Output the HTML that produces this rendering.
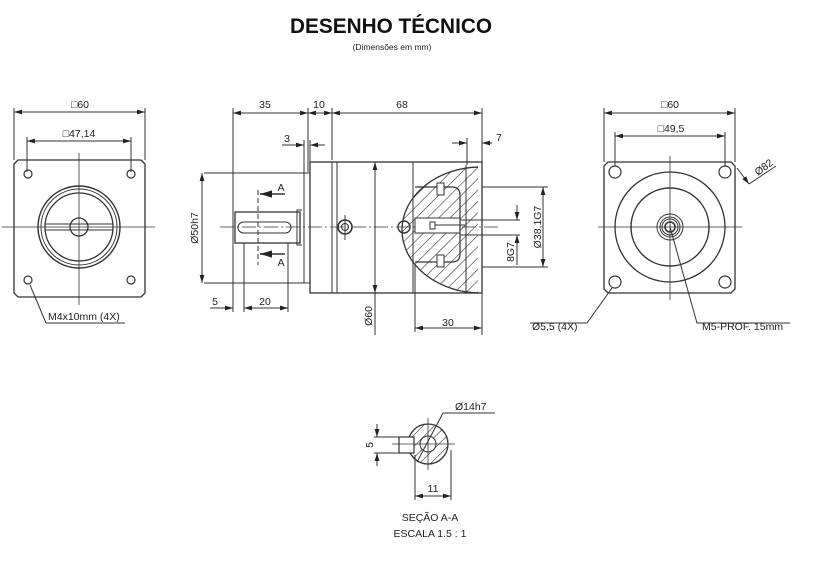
<!DOCTYPE html>
<html><head><meta charset="utf-8"><style>
html,body{margin:0;padding:0;background:#fff;}
svg{display:block;}
text{font-family:"Liberation Sans",Arial,sans-serif;fill:#222;}
</style></head><body>
<svg width="824" height="564" viewBox="0 0 824 564" xmlns="http://www.w3.org/2000/svg">
<defs>
<pattern id="h" width="8" height="8" patternUnits="userSpaceOnUse" patternTransform="rotate(45)">
<line x1="0" y1="0" x2="0" y2="8" stroke="#333" stroke-width="1.2"/>
</pattern>
<marker id="a" viewBox="0 0 10 6" refX="10" refY="3" markerWidth="8" markerHeight="5" orient="auto-start-reverse">
<path d="M0,0L10,3L0,6z" fill="#222"/>
</marker>
</defs>
<text x="391" y="33" font-size="21" font-weight="900" text-anchor="middle" textLength="202" lengthAdjust="spacingAndGlyphs" style="fill:#111">DESENHO TÉCNICO</text>
<text x="392" y="50" font-size="8.5" text-anchor="middle">(Dimensões em mm)</text>

<g stroke="#333" fill="none" stroke-width="1">
<!-- LEFT VIEW -->
<path d="M18,160H141L145,164V293L141,297H18L14,293V164Z" stroke-width="1.3"/>
<line x1="2" y1="227" x2="155" y2="227" stroke-width="0.8"/>
<line x1="79" y1="153" x2="79" y2="305" stroke-width="0.8"/>
<circle cx="79" cy="227" r="41" stroke-width="1.4"/>
<circle cx="79" cy="227" r="38"/>
<circle cx="79" cy="227" r="34" stroke-width="1.3"/>
<circle cx="79" cy="227" r="9" stroke-width="1.3"/>
<line x1="45" y1="224" x2="113" y2="224"/><line x1="45" y1="230" x2="113" y2="230"/>
<g stroke-width="1.2"><circle cx="28" cy="174" r="4"/><circle cx="131" cy="174" r="4"/><circle cx="28" cy="280" r="4"/><circle cx="131" cy="280" r="4"/></g>
<line x1="14" y1="108" x2="14" y2="160"/><line x1="145" y1="108" x2="145" y2="160"/>
<line x1="14" y1="112" x2="145" y2="112" marker-start="url(#a)" marker-end="url(#a)"/>
<line x1="27" y1="137" x2="27" y2="172"/><line x1="131" y1="137" x2="131" y2="172"/>
<line x1="27" y1="141" x2="131" y2="141" marker-start="url(#a)" marker-end="url(#a)"/>
<polyline points="30,285 46,323 125,323"/>

<!-- MIDDLE VIEW -->
<line x1="233" y1="108" x2="233" y2="312"/>
<line x1="308" y1="108" x2="308" y2="172"/>
<line x1="332" y1="108" x2="332" y2="160"/>
<line x1="482" y1="108" x2="482" y2="335"/>
<line x1="233" y1="113" x2="308" y2="113" marker-start="url(#a)" marker-end="url(#a)"/>
<line x1="308" y1="113" x2="332" y2="113" marker-start="url(#a)" marker-end="url(#a)"/>
<line x1="332" y1="113" x2="482" y2="113" marker-start="url(#a)" marker-end="url(#a)"/>
<line x1="282" y1="145" x2="304" y2="145" marker-end="url(#a)"/>
<line x1="325" y1="145" x2="310" y2="145" marker-end="url(#a)"/>
<line x1="304" y1="140" x2="304" y2="173"/><line x1="310" y1="140" x2="310" y2="162"/>
<rect x="310" y="162" width="172" height="131" stroke-width="1.3"/>
<line x1="332" y1="162" x2="332" y2="293"/><line x1="337" y1="162" x2="337" y2="293"/>
<line x1="413" y1="162" x2="413" y2="293"/>
<rect x="304" y="173" width="6" height="110"/>
<path d="M302,210H297V245H302" /><rect x="235" y="212" width="65" height="31" stroke-width="1.3"/>
<rect x="238" y="222" width="53" height="11" rx="5.5"/>
<line x1="204" y1="173" x2="304" y2="173"/><line x1="204" y1="283" x2="304" y2="283"/>
<line x1="202" y1="173" x2="202" y2="283" marker-start="url(#a)" marker-end="url(#a)"/>
<line x1="258" y1="190" x2="258" y2="265" stroke-dasharray="5,3"/>
<line x1="285" y1="194" x2="260" y2="194" marker-end="url(#a)" stroke-width="1.5"/>
<line x1="285" y1="254" x2="260" y2="254" marker-end="url(#a)" stroke-width="1.5"/>
<line x1="220" y1="227" x2="500" y2="227" stroke-width="0.8" stroke-dasharray="14,3,2,3"/>
<circle cx="345" cy="227" r="7" stroke-width="1.6"/><circle cx="345" cy="227" r="3.5"/>
<line x1="345" y1="215" x2="345" y2="240"/>
<circle cx="404" cy="227" r="6" stroke-width="1.4"/>
<clipPath id="cc"><rect x="300" y="160" width="178" height="140"/></clipPath>
<ellipse cx="481" cy="230" rx="79" ry="63" fill="url(#h)" clip-path="url(#cc)" stroke-width="1.3"/>
<rect x="415" y="218" width="45" height="15" fill="#fff"/>
<path d="M415,187H452Q460,187 460,195V254Q460,262 452,262H415" stroke-width="1.2"/>
<rect x="437" y="183" width="7" height="12" fill="#fff"/><rect x="437" y="255" width="7" height="12" fill="#fff"/>
<path d="M460,218V233" /><line x1="466" y1="165" x2="466" y2="293"/>
<rect x="430" y="222" width="5" height="7"/><line x1="435" y1="225" x2="465" y2="225"/>
<line x1="452" y1="143" x2="467" y2="143" marker-end="url(#a)"/>
<line x1="492" y1="143" x2="482" y2="143" marker-end="url(#a)"/>
<line x1="467" y1="138" x2="467" y2="165"/>
<line x1="482" y1="187" x2="548" y2="187"/><line x1="482" y1="267" x2="548" y2="267"/>
<line x1="543" y1="187" x2="543" y2="267" marker-start="url(#a)" marker-end="url(#a)"/>
<line x1="460" y1="220" x2="520" y2="220"/><line x1="460" y1="235" x2="520" y2="235"/>
<line x1="517" y1="205" x2="517" y2="220" marker-end="url(#a)"/>
<line x1="517" y1="265" x2="517" y2="235" marker-end="url(#a)"/>
<line x1="375" y1="162" x2="375" y2="293" marker-start="url(#a)" marker-end="url(#a)"/>
<line x1="375" y1="293" x2="375" y2="335"/>
<line x1="415" y1="265" x2="415" y2="332"/>
<line x1="415" y1="328" x2="482" y2="328" marker-start="url(#a)" marker-end="url(#a)"/>
<line x1="244" y1="243" x2="244" y2="312"/><line x1="288" y1="243" x2="288" y2="312"/>
<line x1="210" y1="308" x2="233" y2="308" marker-end="url(#a)"/>
<line x1="244" y1="308" x2="288" y2="308" marker-start="url(#a)" marker-end="url(#a)"/>

<!-- RIGHT VIEW -->
<path d="M608,162H731L735,166V289L731,293H608L604,289V166Z" stroke-width="1.3"/>
<line x1="598" y1="227" x2="742" y2="227" stroke-width="0.8"/>
<line x1="670" y1="156" x2="670" y2="300" stroke-width="0.8"/>
<circle cx="670" cy="227" r="55" stroke-width="1.3"/>
<circle cx="670" cy="227" r="39" stroke-width="1.4"/>
<circle cx="670" cy="227" r="13"/><circle cx="670" cy="227" r="10"/><circle cx="670" cy="227" r="8"/>
<circle cx="670" cy="227" r="5" stroke-width="1.6"/>
<g stroke-width="1.2"><circle cx="615" cy="172" r="6"/><circle cx="725" cy="172" r="6"/><circle cx="615" cy="282" r="6"/><circle cx="725" cy="282" r="6"/></g>
<line x1="604" y1="108" x2="604" y2="162"/><line x1="735" y1="108" x2="735" y2="162"/>
<line x1="604" y1="113" x2="735" y2="113" marker-start="url(#a)" marker-end="url(#a)"/>
<line x1="615" y1="132" x2="615" y2="166"/><line x1="725" y1="132" x2="725" y2="166"/>
<line x1="615" y1="136" x2="725" y2="136" marker-start="url(#a)" marker-end="url(#a)"/>
<line x1="737" y1="168" x2="749" y2="184" marker-end="url(#a)"/>
<line x1="749" y1="184" x2="776" y2="166"/>
<polyline points="612,288 587,323 530,323"/>
<polyline points="670,227 697,323 790,323"/>

<!-- SECTION A-A -->
<circle cx="428" cy="444" r="20" fill="url(#h)" stroke-width="1.3"/>
<circle cx="428" cy="444" r="8" fill="#fff"/>
<rect x="399" y="437" width="15" height="16" fill="#fff" stroke-width="1.2"/>
<line x1="392" y1="444" x2="455" y2="444" stroke-width="0.8"/>
<line x1="428" y1="418" x2="428" y2="470" stroke-width="0.8"/>
<line x1="374" y1="437" x2="399" y2="437"/><line x1="374" y1="453" x2="399" y2="453"/>
<line x1="377" y1="424" x2="377" y2="437" marker-end="url(#a)"/>
<line x1="377" y1="466" x2="377" y2="453" marker-end="url(#a)"/>
<polyline points="417,462 443,413 495,413"/>
<line x1="415" y1="455" x2="415" y2="500"/><line x1="451" y1="450" x2="451" y2="500"/>
<line x1="415" y1="496" x2="451" y2="496" marker-start="url(#a)" marker-end="url(#a)"/>
</g>

<g font-size="10.5">
<text x="80" y="108" text-anchor="middle">□60</text>
<text x="79" y="137" text-anchor="middle">□47,14</text>
<text x="48" y="320">M4x10mm (4X)</text>
<text x="265" y="108" text-anchor="middle">35</text>
<text x="319" y="108" text-anchor="middle">10</text>
<text x="402" y="108" text-anchor="middle">68</text>
<text x="287" y="142" text-anchor="middle">3</text>
<text x="499" y="141" text-anchor="middle">7</text>
<text x="281" y="191" text-anchor="middle">A</text>
<text x="281" y="266" text-anchor="middle">A</text>
<text x="215" y="305" text-anchor="middle">5</text>
<text x="265" y="305" text-anchor="middle">20</text>
<text x="448" y="326" text-anchor="middle">30</text>
<text transform="translate(198,228) rotate(-90)" text-anchor="middle">Ø50h7</text>
<text transform="translate(372,316) rotate(-90)" text-anchor="middle">Ø60</text>
<text transform="translate(541,227) rotate(-90)" text-anchor="middle">Ø38,1G7</text>
<text transform="translate(514,252) rotate(-90)" text-anchor="middle">8G7</text>
<text x="670" y="108" text-anchor="middle">□60</text>
<text x="671" y="132" text-anchor="middle">□49,5</text>
<text transform="translate(758,176) rotate(-37)">Ø82</text>
<text x="532" y="330">Ø5,5 (4X)</text>
<text x="702" y="330">M5-PROF. 15mm</text>
<text x="455" y="410">Ø14h7</text>
<text transform="translate(373,445) rotate(-90)" text-anchor="middle">5</text>
<text x="433" y="492" text-anchor="middle">11</text>
<text x="430" y="521" text-anchor="middle">SEÇÃO A-A</text>
<text x="430" y="537" text-anchor="middle">ESCALA 1.5 : 1</text>
</g>
</svg>
</body></html>
